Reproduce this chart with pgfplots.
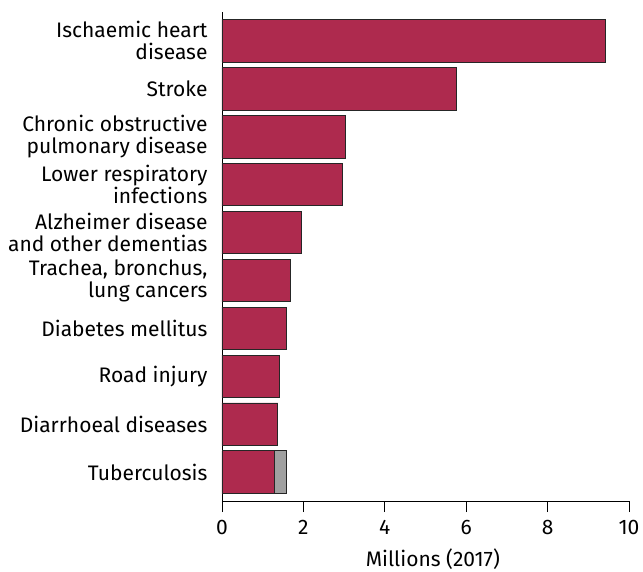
\documentclass[border=0pt]{standalone}
\usepackage{pgfplots}
\pgfplotsset{compat=1.18}
\usepackage{fontspec}
\setmainfont{Fira Sans}
\definecolor{barred}{RGB}{174,42,78}
\definecolor{bargray}{RGB}{160,160,160}
\begin{document}
\begin{tikzpicture}
\useasboundingbox (-222bp,-71bp) rectangle (421bp,501bp);
\begin{axis}[
  at={(0,0)}, anchor=south west,
  scale only axis,
  width=407bp, height=489bp,
  xbar stacked,
  bar width=0.89,
  xmin=0, xmax=10,
  ymin=-0.6, ymax=9.6,
  axis lines*=left,
  axis line style={black, line width=0.9bp},
  xtick={0,2,4,6,8,10},
  ytick={0,...,9},
  yticklabels={Tuberculosis, Diarrhoeal diseases, Road injury, Diabetes mellitus,
    {Trachea, bronchus,\\lung cancers}, {Alzheimer disease\\and other dementias},
    {Lower respiratory\\infections}, {Chronic obstructive\\pulmonary disease},
    Stroke, {Ischaemic heart\\disease}},
  tick align=outside,
  major tick length=11bp,
  xtick style={black, line width=0.9bp},
  ytick style={draw=none},
  /pgf/number format/assume math mode=true,
  ticklabel style={font=\fontsize{21bp}{22bp}\selectfont},
  yticklabel style={align=right, xshift=0bp},
  xticklabel style={yshift=-5bp},
  xlabel={Millions (2017)},
  xlabel style={font=\fontsize{21bp}{22bp}\selectfont, at={(axis description cs:0.518,0)}, anchor=north, yshift=-47bp, inner sep=1bp},
  every axis plot/.append style={draw=black!85, line width=0.9bp},
]
\addplot[fill=barred] coordinates {
  (1.30,0) (1.37,1) (1.41,2) (1.58,3) (1.69,4) (1.95,5) (2.96,6) (3.04,7) (5.76,8) (9.42,9)};
\addplot[fill=bargray] coordinates {(0.29,0)};
\end{axis}
\end{tikzpicture}
\end{document}
